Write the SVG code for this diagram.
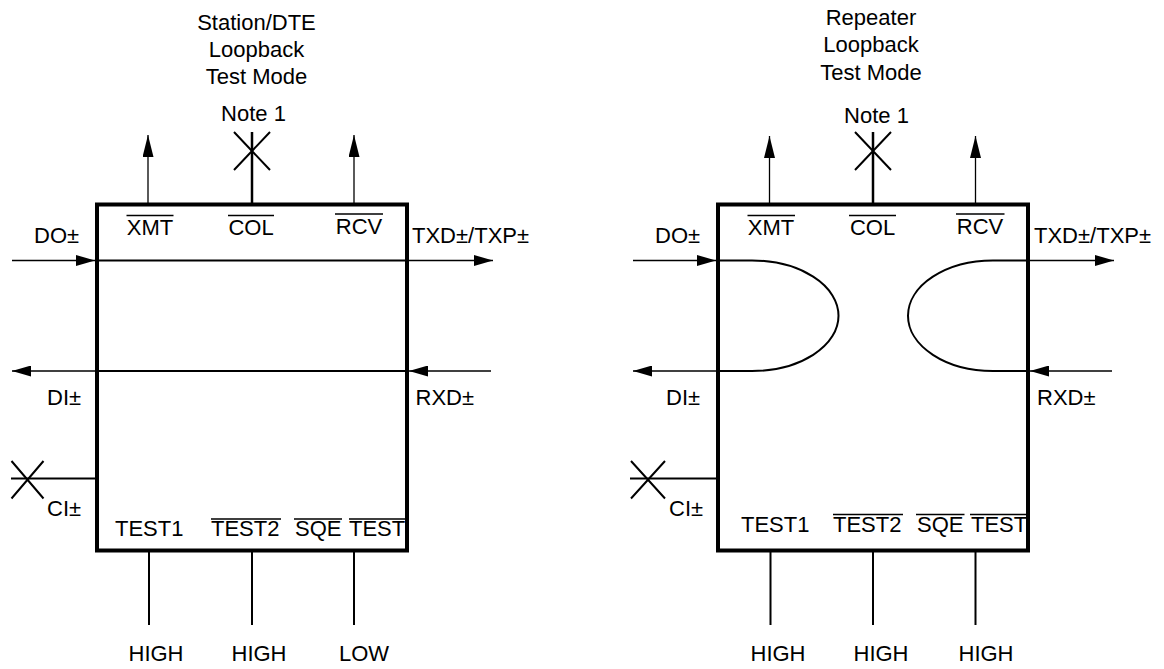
<svg xmlns="http://www.w3.org/2000/svg" width="1164" height="669" viewBox="0 0 1164 669">
<defs>
<style>
.t{font-family:"Liberation Sans",Arial,Helvetica,sans-serif;font-size:22px;fill:#000}
.m{text-anchor:middle}
.box{fill:none;stroke:#000;stroke-width:4}
.ov{stroke:#000;stroke-width:1.3;fill:none}
.thin{stroke:#000;stroke-width:1.3;fill:none}
.med{stroke:#000;stroke-width:2;fill:none}
.col{stroke:#000;stroke-width:2.5;fill:none}
.ah{marker-end:url(#ahH)}
.av{marker-end:url(#ahV)}
</style>
<marker id="ahH" viewBox="0 0 19 11" refX="19" refY="5.5" markerWidth="19" markerHeight="11" markerUnits="userSpaceOnUse" orient="auto">
<path d="M0,0 L19,5.5 L0,11 z" fill="#000"/>
</marker>
<marker id="ahV" viewBox="0 0 22 11" refX="22" refY="5.5" markerWidth="22" markerHeight="11" markerUnits="userSpaceOnUse" orient="auto">
<path d="M0,0 L22,5.5 L0,11 z" fill="#000"/>
</marker>
</defs>
<rect width="1164" height="669" fill="#fff"/>

<g id="title-left" class="t m">
<text x="256.5" y="30">Station/DTE</text>
<text x="256.5" y="57">Loopback</text>
<text x="256.5" y="84">Test Mode</text>
<text x="253.5" y="121">Note 1</text>
</g>

<g id="title-right" class="t m">
<text x="871" y="25">Repeater</text>
<text x="871" y="52">Loopback</text>
<text x="871" y="80">Test Mode</text>
<text x="876.5" y="123">Note 1</text>
</g>

<g id="box-left">
<rect class="box" x="97" y="204.5" width="310" height="346"/>
<g class="t">
<text class="m" x="150" y="235">XMT</text>
<text class="m" x="251" y="235">COL</text>
<text class="m" x="359" y="233.5">RCV</text>
<text x="115" y="536">TEST1</text>
<text x="211" y="536">TEST2</text>
<text x="295" y="536">SQE</text>
<text x="349" y="536">TEST</text>
</g>
<path class="ov" d="M126.5,215.5H173.5 M228,215.5H274 M335,214H383 M211,519H281 M294,519H342 M349,519H405"/>
</g>

<g id="box-right">
<rect class="box" x="718" y="204.5" width="310" height="346"/>
<g class="t">
<text class="m" x="771" y="235">XMT</text>
<text class="m" x="872.5" y="235">COL</text>
<text class="m" x="980" y="233.5">RCV</text>
<text x="741" y="532">TEST1</text>
<text x="833" y="532">TEST2</text>
<text x="917" y="532">SQE</text>
<text x="971" y="532">TEST</text>
</g>
<path class="ov" d="M747.5,215.5H795 M849,215.5H896 M956,214H1004.5 M833,514.5H903 M916,514.5H964.5 M970,514.5H1026"/>
</g>

<g id="pin-labels" class="t">
<text x="34" y="243">DO±</text>
<text x="412" y="243">TXD±/TXP±</text>
<text x="47" y="405">DI±</text>
<text x="415.5" y="405">RXD±</text>
<text x="47" y="516">CI±</text>
<text class="m" x="156" y="661">HIGH</text>
<text class="m" x="259" y="661">HIGH</text>
<text class="m" x="364" y="661">LOW</text>
<text x="655" y="243">DO±</text>
<text x="1034" y="243">TXD±/TXP±</text>
<text x="666" y="405">DI±</text>
<text x="1037" y="405">RXD±</text>
<text x="669" y="516">CI±</text>
<text class="m" x="778" y="661">HIGH</text>
<text class="m" x="881" y="661">HIGH</text>
<text class="m" x="986" y="661">HIGH</text>
</g>

<g id="connectors">
<!-- left -->
<line class="thin av" x1="148" y1="203" x2="148" y2="135"/>
<line class="col" x1="252" y1="203" x2="252" y2="132"/>
<path class="med" d="M234,132L270,170 M270,132L234,170"/>
<line class="thin av" x1="354" y1="203" x2="354" y2="135"/>
<line class="thin ah" x1="12" y1="260.5" x2="95" y2="260.5"/>
<line class="med" x1="97" y1="260.5" x2="407" y2="260.5"/>
<line class="thin ah" x1="407" y1="260.5" x2="493" y2="260.5"/>
<line class="thin ah" x1="491" y1="371" x2="409" y2="371"/>
<line class="med" x1="97" y1="371" x2="407" y2="371"/>
<line class="thin ah" x1="97" y1="371" x2="12" y2="371"/>
<line class="med" x1="11" y1="478.5" x2="97" y2="478.5"/>
<path class="med" d="M11.5,461L43.5,498.5 M43.5,461L11.5,498.5"/>
<path class="med" d="M149,552V625 M252,552V625 M354,552V625"/>
<!-- right -->
<line class="thin av" x1="769.5" y1="203" x2="769.5" y2="136"/>
<line class="col" x1="873" y1="203" x2="873" y2="132"/>
<path class="med" d="M855,132L891,170 M891,132L855,170"/>
<line class="thin av" x1="975.5" y1="203" x2="975.5" y2="136"/>
<line class="thin ah" x1="633" y1="260.5" x2="716" y2="260.5"/>
<path class="med" d="M718,260.5H752A86.5,55.25 0 0 1 752,371H718"/>
<path class="med" d="M1028,260.5H993A85,55.25 0 0 0 993,371H1028"/>
<line class="thin ah" x1="1028" y1="260.5" x2="1114" y2="260.5"/>
<line class="thin ah" x1="1112" y1="371" x2="1030" y2="371"/>
<line class="thin ah" x1="718" y1="371" x2="633" y2="371"/>
<line class="med" x1="630" y1="478.5" x2="718" y2="478.5"/>
<path class="med" d="M631,461L665,498.5 M665,461L631,498.5"/>
<path class="med" d="M770.5,552V625 M873,552V625 M975.5,552V625"/>
</g>
</svg>
